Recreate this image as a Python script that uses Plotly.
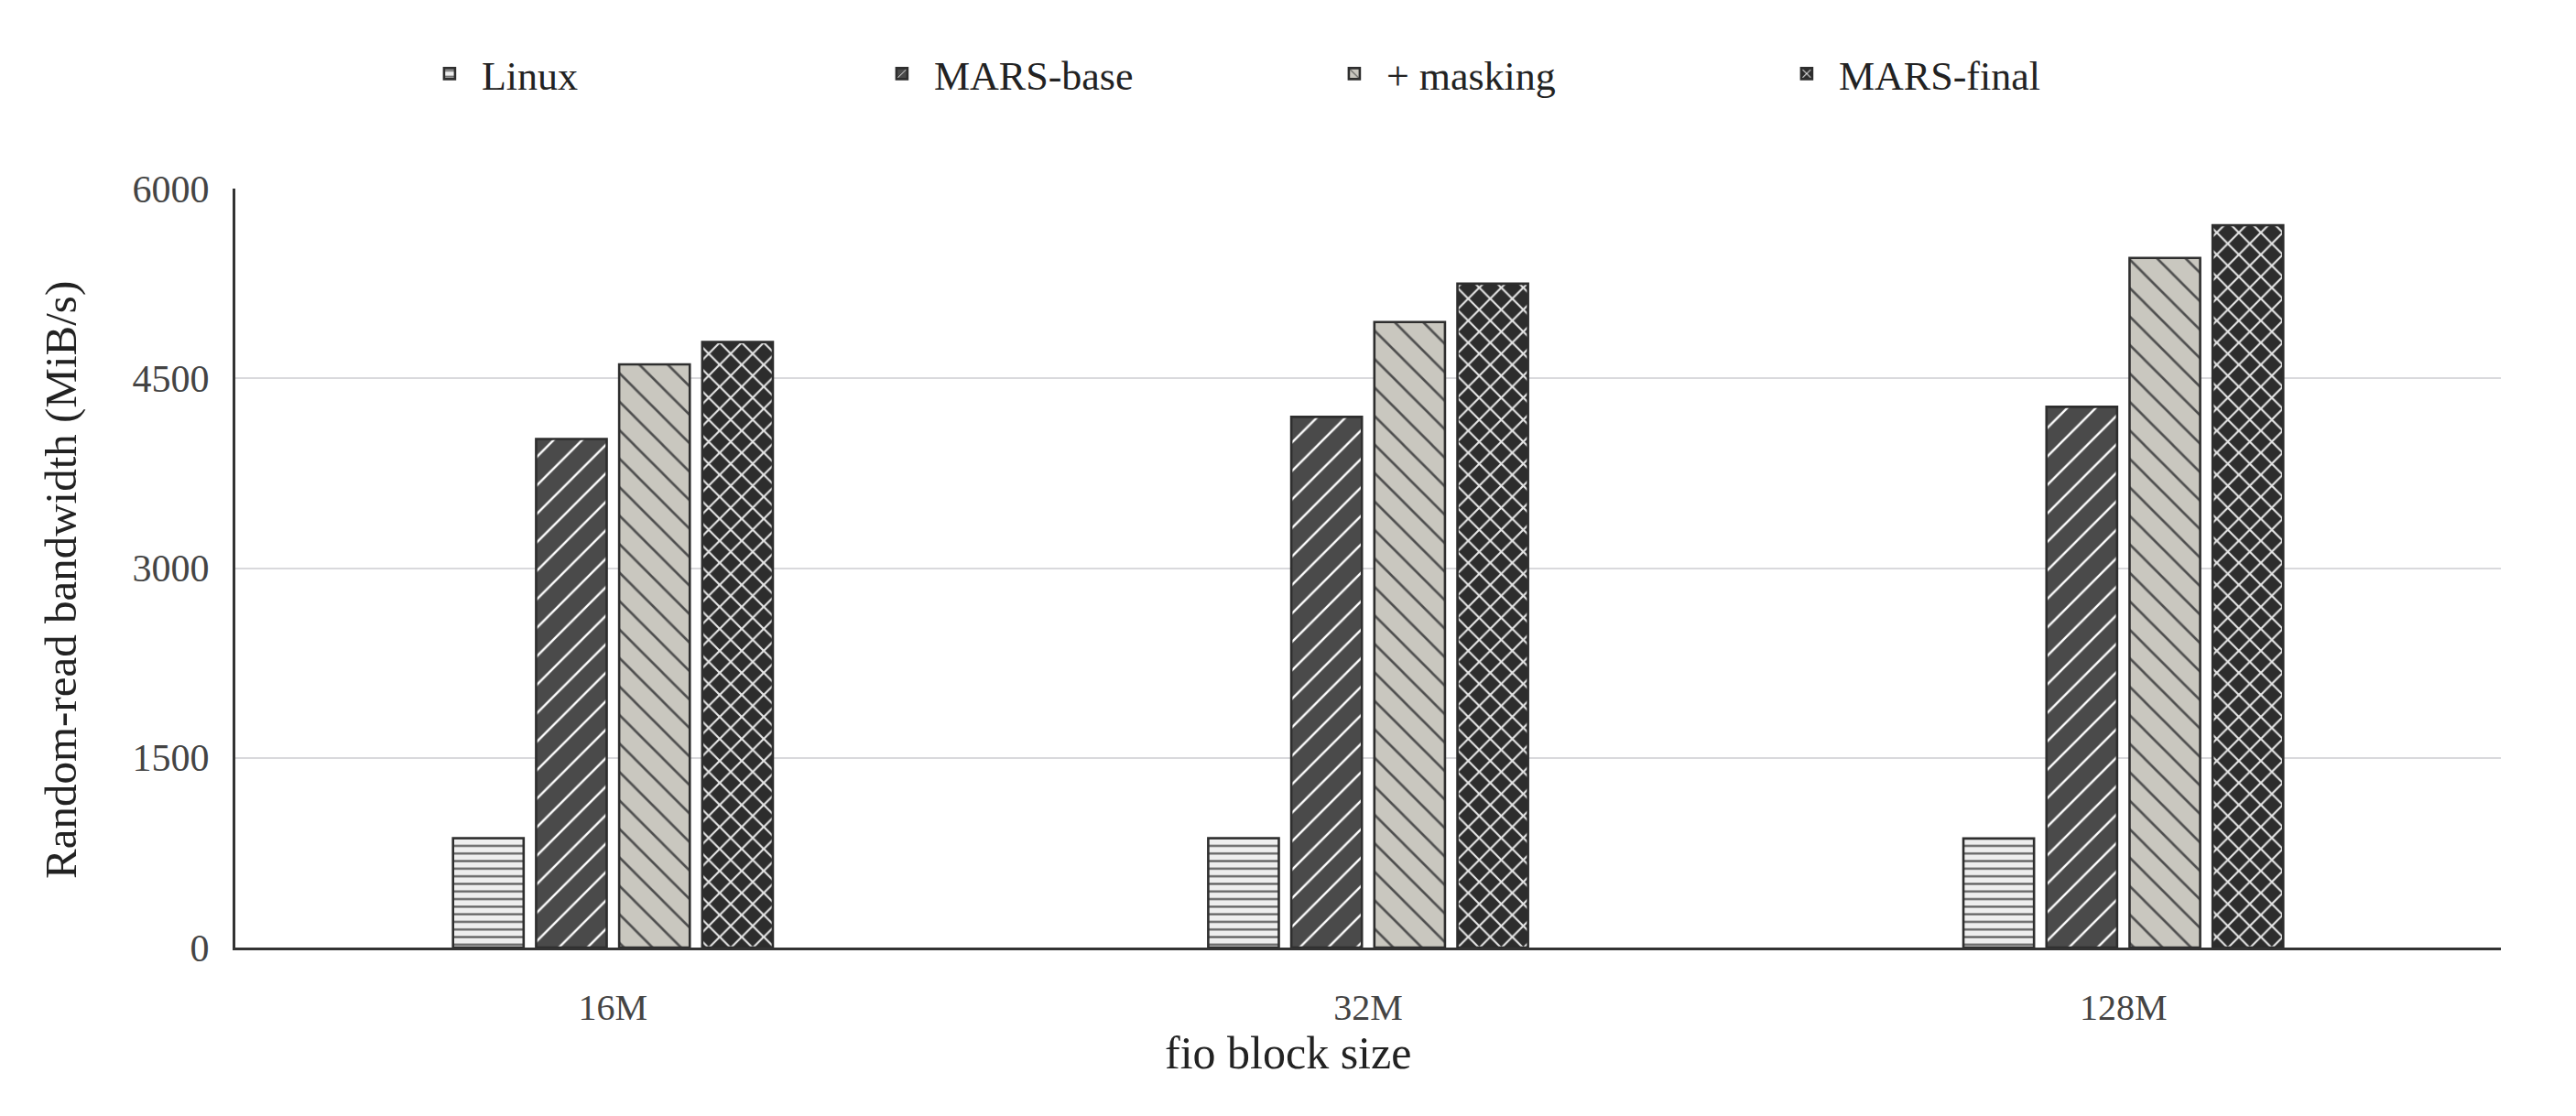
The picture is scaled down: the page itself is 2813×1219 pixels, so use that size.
import plotly.graph_objects as go

categories = ["16M", "32M", "128M"]
series_names = ["Linux", "MARS-base", "+ masking", "MARS-final"]
linux = [865, 865, 862]
mars_base = [4020, 4195, 4275]
masking = [4610, 4945, 5452]
mars_final = [4787, 5248, 5710]
y_ticks = [0, 1500, 3000, 4500, 6000]
x_title = "fio block size"
y_title = "Random-read bandwidth (MiB/s)"

series_values = [linux, mars_base, masking, mars_final]
styles = [
    dict(shape="-", bg="#eeeeee", fg="#5e5e5e", size=8.3, solidity=0.27),
    dict(shape="/", bg="#4a4a4a", fg="#ffffff", size=22, solidity=0.11),
    dict(shape="\\", bg="#c9c7bf", fg="#4e4e4e", size=22, solidity=0.12),
    dict(shape="x", bg="#2d2d2d", fg="#e6e6e6", size=17, solidity=0.24),
]

FONT = "Liberation Serif"
fig = go.Figure()
for name, vals, st in zip(series_names, series_values, styles):
    fig.add_trace(go.Bar(
        x=categories, y=vals, name=name,
        marker=dict(
            color=st["bg"],
            line=dict(color="#2e2e2e", width=2.6),
            pattern=dict(shape=st["shape"], bgcolor=st["bg"], fgcolor=st["fg"],
                         size=st["size"], solidity=st["solidity"], fillmode="replace"),
        ),
    ))

fig.update_layout(
    width=2813, height=1219,
    margin=dict(l=257, r=82, t=206, b=184),
    paper_bgcolor="white", plot_bgcolor="white",
    barmode="group", bargap=0.56, bargroupgap=0.15,
    font=dict(family=FONT, color="#222222"),
    legend=dict(
        orientation="h", x=0.0804, xanchor="left", y=1.151, yanchor="middle",
        font=dict(family=FONT, size=44, color="#222222"),
        entrywidth=419, entrywidthmode="pixels",
        itemwidth=60, traceorder="normal",
    ),
    xaxis=dict(
        type="category",
        showline=True, linecolor="#333333", linewidth=3,
        showgrid=False, ticks="", ticklabelstandoff=28,
        tickfont=dict(family=FONT, size=40, color="#444444"),
    ),
    yaxis=dict(
        range=[0, 6000], tickvals=y_ticks,
        showline=True, linecolor="#333333", linewidth=3,
        showgrid=True, gridcolor="#d9d9dc", gridwidth=2,
        zeroline=False, ticks="", ticklabelstandoff=17,
        tickfont=dict(family=FONT, size=42, color="#444444"),
    ),
    annotations=[
        dict(text=x_title, xref="paper", yref="paper", x=0.4646, y=-0.1387,
             xanchor="center", yanchor="middle", showarrow=False,
             font=dict(family=FONT, size=50, color="#222222")),
        dict(text=y_title, xref="paper", yref="paper", x=-0.0772, y=0.4837,
             xanchor="center", yanchor="middle", showarrow=False, textangle=-90,
             font=dict(family=FONT, size=49, color="#222222")),
    ],
)

fig.write_html("out.html")
